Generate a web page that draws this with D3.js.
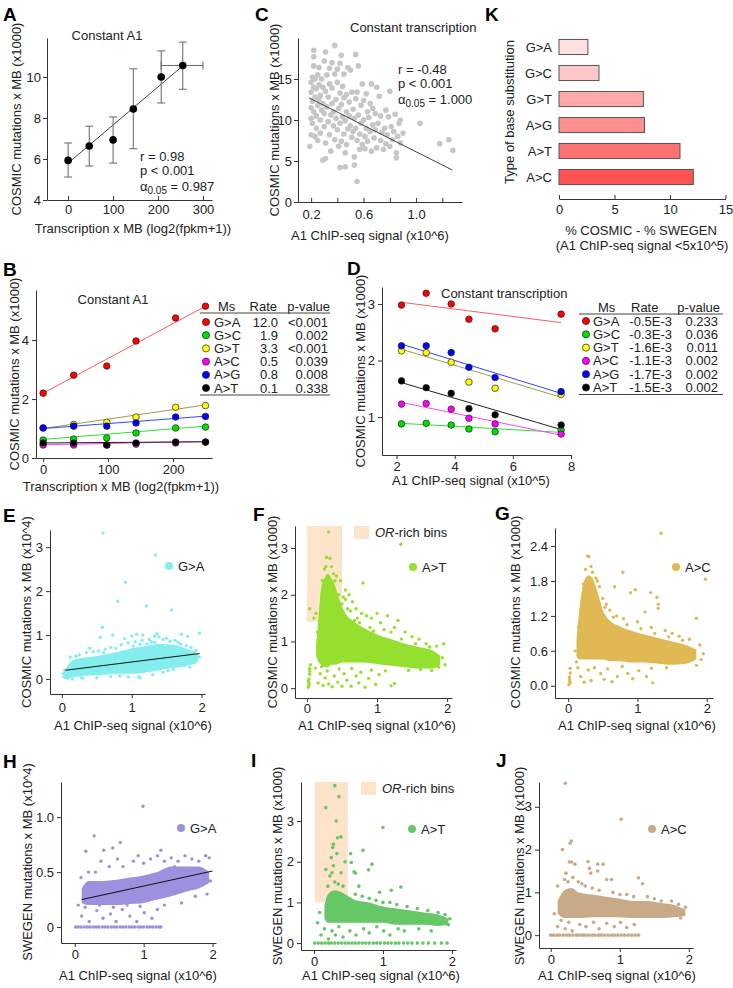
<!DOCTYPE html>
<html><head><meta charset="utf-8">
<script src="https://cdn.jsdelivr.net/npm/d3@7"></script>
<style>
body{margin:0;background:#fff;}
svg{display:block;font-family:"Liberation Sans",Arial,sans-serif;}
</style></head><body>
<svg id="fig" width="733" height="988"></svg>
<script>
// ---------------- DATA ----------------
// Panel A
const aTranscription = [0, 47, 100, 145, 207, 255];
const aMutations = [5.93, 6.63, 6.93, 8.44, 10.0, 10.56];
const aErrLow = [5.12, 5.66, 5.8, 6.5, 8.73, 9.4];
const aErrHigh = [6.78, 7.6, 8.05, 10.4, 11.27, 11.7];
const aXErrLow = [0, 47, 100, 145, 207, 207];
const aXErrHigh = [0, 47, 100, 145, 207, 300];
const aFitX = [0, 255];
const aFitY = [5.8, 10.54];
const aXTicks = [0, 100, 200, 300];
const aYTicks = [4, 6, 8, 10];

// Panel B / D shared
const subst = ["G>A", "G>C", "G>T", "A>C", "A>G", "A>T"];
const substFill = ["#ff0000", "#00e000", "#ffff00", "#ff00ff", "#0000ff", "#000000"];
const substLine = ["#ff5a5a", "#33e033", "#a0a040", "#ff44ff", "#3344ff", "#222222"];

// Panel B
const bTranscription = [0, 47, 98, 143, 204, 250];
const bGA = [2.2, 2.81, 3.12, 3.97, 4.75, 5.15];
const bGC = [0.61, 0.64, 0.68, 0.85, 1.02, 1.05];
const bGT = [1.02, 1.14, 1.21, 1.39, 1.72, 1.78];
const bAC = [0.44, 0.44, 0.44, 0.47, 0.51, 0.54];
const bAG = [1.02, 1.08, 1.08, 1.19, 1.39, 1.41];
const bAT = [0.51, 0.51, 0.44, 0.51, 0.54, 0.54];
const bFitX = [0, 250];
const bFitStart = [2.2, 0.63, 1.0, 0.45, 1.0, 0.51];
const bFitEnd = [5.15, 1.08, 1.8, 0.56, 1.42, 0.55];
const bRates = ["12.0", "1.9", "3.3", "0.5", "0.8", "0.1"];
const bPvalues = ["<0.001", "0.002", "<0.001", "0.039", "0.008", "0.338"];
const bXTicks = [0, 100, 200];
const bYTicks = [0, 2, 4];

// Panel C
const cPoints = [
[0.19,6.8],[0.2,8.2],[0.2,10.2],[0.2,11.5],[0.2,13.4],[0.2,14.6],[0.21,15.2],[0.21,12.3],[0.21,9.6],[0.22,17.7],
[0.22,16.6],[0.22,18.5],[0.22,14.0],[0.22,11.0],[0.23,8.0],[0.23,12.8],[0.23,15.0],[0.24,10.5],[0.24,13.8],[0.24,9.0],
[0.25,15.5],[0.25,11.8],[0.25,7.5],[0.26,16.4],[0.26,12.5],[0.26,14.3],[0.27,10.0],[0.27,8.4],[0.27,13.0],[0.28,15.0],
[0.28,11.2],[0.29,5.1],[0.31,5.3],[0.29,12.0],[0.29,14.0],[0.3,17.2],[0.3,9.2],[0.3,10.8],[0.31,18.3],[0.31,13.5],[0.31,7.2],
[0.32,11.6],[0.32,15.5],[0.33,9.8],[0.33,12.8],[0.34,8.2],[0.34,14.4],[0.34,16.3],[0.35,10.6],[0.35,6.2],[0.36,17.0],
[0.36,12.0],[0.36,13.9],[0.37,9.3],[0.37,11.0],[0.38,19.1],[0.38,15.6],[0.38,7.6],[0.42,4.2],[0.39,12.5],[0.39,10.2],
[0.4,14.6],[0.4,8.8],[0.4,16.2],[0.41,11.4],[0.41,6.8],[0.42,13.3],[0.42,9.6],[0.42,16.9],[0.43,17.9],[0.43,7.4],
[0.43,11.9],[0.44,10.4],[0.44,14.1],[0.45,8.3],[0.45,12.7],[0.45,15.6],[0.46,6.0],[0.46,9.9],[0.47,11.0],[0.47,13.1],
[0.47,7.0],[0.48,8.9],[0.48,16.4],[0.49,10.5],[0.49,12.2],[0.5,9.3],[0.5,16.1],[0.46,4.3],[0.55,2.5],[0.51,7.9],[0.51,13.4],
[0.52,11.3],[0.52,8.6],[0.53,10.2],[0.53,5.5],[0.53,4.5],[0.54,18.0],[0.54,12.6],[0.54,9.0],[0.55,7.5],[0.55,13.4],[0.56,16.6],
[0.56,10.6],[0.57,8.3],[0.57,6.4],[0.58,11.8],[0.58,9.6],[0.59,7.0],[0.59,14.4],[0.6,12.4],[0.6,10.0],[0.61,8.0],
[0.61,6.5],[0.62,13.2],[0.62,9.0],[0.63,11.0],[0.63,7.4],[0.64,10.3],[0.65,12.0],[0.65,8.6],[0.66,14.4],[0.66,6.2],
[0.67,9.4],[0.67,11.4],[0.68,7.8],[0.69,10.8],[0.69,8.8],[0.7,14.0],[0.7,6.6],[0.71,9.6],[0.72,12.9],[0.73,7.5],
[0.73,10.5],[0.74,8.5],[0.75,6.4],[0.76,9.0],[0.77,11.2],[0.77,7.1],[0.78,8.2],[0.79,10.4],[0.8,6.8],[0.8,13.5],
[0.81,9.2],[0.82,7.6],[0.83,8.6],[0.84,10.7],[0.85,6.0],[0.86,8.0],[0.87,9.6],[0.88,7.2],[0.88,10.0],[0.9,8.4],
[1.03,9.6],[1.18,7.1],[1.25,7.6],[1.28,6.3],[0.85,5.4]
];
const cFitX = [0.184, 1.276];
const cFitY = [12.7, 3.9];
const cXTicks = [0.2, 0.4, 0.6, 0.8, 1.0, 1.2];
const cXLabels = ["0.2", "", "0.6", "", "1.0", ""];
const cYTicks = [0, 5, 10, 15];

// Panel D
const dSignal = [2.17, 3.02, 3.88, 4.49, 5.39, 7.66];
const dGA = [2.98, 3.19, 3.0, 2.73, 2.56, 2.82];
const dGC = [0.88, 0.89, 0.86, 0.79, 0.74, 0.77];
const dGT = [2.17, 2.14, 1.97, 1.62, 1.51, 1.40];
const dAC = [1.23, 1.24, 1.14, 0.98, 0.88, 0.70];
const dAG = [2.26, 2.26, 2.14, 1.88, 1.70, 1.45];
const dAT = [1.64, 1.52, 1.42, 1.15, 1.04, 0.86];
const dFitX = [2.17, 7.66];
const dFitStart = [3.03, 0.89, 2.20, 1.26, 2.29, 1.61];
const dFitEnd = [2.67, 0.73, 1.35, 0.68, 1.42, 0.78];
const dRates = ["-0.5E-3", "-0.3E-3", "-1.6E-3", "-1.1E-3", "-1.7E-3", "-1.5E-3"];
const dPvalues = ["0.233", "0.036", "0.011", "0.002", "0.002", "0.002"];
const dXTicks = [2, 4, 6, 8];
const dYTicks = [1, 2, 3];

// Panel K
const kCategories = ["G>A", "G>C", "G>T", "A>G", "A>T", "A>C"];
const kValues = [2.6, 3.6, 7.6, 7.7, 10.9, 12.1];
const kColors = ["#ffe1e1", "#ffc8c8", "#ffa9a9", "#ff8f8f", "#ff7171", "#ff5252"];
const kXTicks = [0, 5, 10, 15];

// Panel E (COSMIC G>A)
const eCloudX = [0.03, 0.1, 0.2, 0.4, 0.6, 0.8, 1.0, 1.2, 1.4, 1.6, 1.8, 1.95];
const eCloudLow = [0.0, 0.02, 0.05, 0.08, 0.1, 0.12, 0.12, 0.15, 0.2, 0.25, 0.3, 0.38];
const eCloudHigh = [0.15, 0.35, 0.45, 0.5, 0.55, 0.62, 0.7, 0.75, 0.8, 0.78, 0.68, 0.58];
const ePoints = [[0.59,3.32],[1.34,2.82],[0.91,2.2],[0.8,1.77],[1.21,1.66],[1.57,1.57],[0.58,1.18],[0.73,1.0],[1.0,0.98],[1.07,1.02],
[1.16,1.0],[1.33,0.97],[1.36,1.03],[1.39,0.96],[1.71,1.02],[1.8,0.97],[1.97,1.04],[0.55,0.95],[0.9,0.92],[1.25,0.9],[1.5,0.93],[1.62,0.88],
[0.03,0.05],[0.02,0.12],[0.04,0.2],[0.12,0.5],[0.25,0.55],[0.35,0.6],[0.45,0.62],[0.62,0.68],[0.7,0.72],[0.85,0.78],[0.95,0.82],
[1.05,0.85],[1.15,0.88],[1.28,0.85],[1.45,0.9],[1.55,0.86],[1.7,0.8],[1.85,0.72],[1.92,0.65],[1.97,0.5],[1.9,0.38],[1.75,0.3],
[1.6,0.22],[1.45,0.15],[1.3,0.1],[1.1,0.05],[0.95,0.05],[0.7,0.06],[0.5,0.03],[0.3,0.02],[0.15,0.0],[0.08,0.02],[1.12,0.03],
[1.58,0.4],[0.4,0.7],[1.02,0.75],[1.22,0.8],[0.18,0.4],[0.6,0.6],[0.2,0.52],[0.52,0.64],[0.77,0.7],[1.12,0.79],[1.33,0.83],
[1.66,0.84],[1.78,0.76],[1.88,0.61],[0.28,0.03],[0.83,0.07],[1.52,0.19],[1.83,0.27]];
const eFitX = [0.05, 1.97];
const eFitY = [0.2, 0.58];
const eXTicks = [0, 1, 2];
const eYTicks = [0, 1, 2, 3];

// Panel F (COSMIC A>T)
const fCloudX = [0.13, 0.17, 0.2, 0.25, 0.3, 0.35, 0.4, 0.45, 0.5, 0.55, 0.65, 0.8, 1.0, 1.2, 1.4, 1.6, 1.8, 1.9];
const fCloudLow = [0.7, 0.55, 0.5, 0.45, 0.45, 0.5, 0.5, 0.52, 0.55, 0.55, 0.55, 0.55, 0.52, 0.48, 0.45, 0.42, 0.42, 0.5];
const fCloudHigh = [0.9, 1.6, 2.1, 2.35, 2.45, 2.35, 2.2, 1.95, 1.75, 1.6, 1.45, 1.3, 1.15, 1.05, 0.95, 0.88, 0.8, 0.7];
const fPoints = [[0.02,0.02],[0.03,0.1],[0.03,0.2],[0.04,0.3],[0.04,0.42],[0.05,0.5],[0.03,0.06],[0.02,0.15],[0.04,0.36],
[0.23,0.06],[0.26,0.22],[0.29,0.37],[0.31,0.09],[0.36,0.03],[0.39,0.26],[0.44,0.13],[0.46,0.41],[0.5,0.04],[0.53,0.31],[0.57,0.17],
[0.63,0.04],[0.64,0.42],[0.7,0.26],[0.74,0.11],[0.77,0.34],[0.83,0.02],[0.88,0.21],[0.92,0.39],[0.98,0.08],[1.03,0.29],
[1.12,0.37],[1.2,0.05],[1.25,0.1],[0.19,0.31],[0.21,0.46],[0.16,0.11],[0.12,0.43],
[0.31,3.34],[1.34,3.08],[0.8,2.25],[0.28,2.8],[0.33,2.78],[0.35,2.6],[0.25,2.55],[0.38,2.45],[0.42,2.4],[0.48,2.3],[0.55,2.1],
[0.6,2.0],[0.65,1.85],[0.7,1.7],[0.72,1.5],[0.78,1.6],[0.85,1.55],[0.92,1.5],[1.0,1.6],[1.05,1.4],[1.15,1.55],[1.25,1.3],
[1.3,1.45],[1.4,1.2],[1.5,1.1],[1.6,1.05],[1.7,0.95],[1.85,0.9],[1.95,0.95],[1.93,0.65],[1.97,0.5],[1.88,0.45],[0.04,1.7],
[0.1,1.5],[0.13,1.6],[0.15,1.2],[0.18,1.45],[0.22,2.05],[0.45,2.0],[0.5,1.8],[0.55,1.9],[0.62,1.65],[0.68,1.45],[0.9,1.3],
[1.1,1.25],[1.2,1.2],[1.62,0.4],[1.78,0.38],[1.45,0.38],[0.22,2.3],[0.27,2.6],[0.4,2.3],[0.52,1.95],[0.58,1.7],[0.75,1.4],
[0.95,1.22],[1.35,1.05],[1.55,0.95],[1.75,0.88]];
const fRectX = [0.0, 0.5];
const fRectY = [1.42, 3.47];
const fXTicks = [0, 1, 2];
const fYTicks = [0, 1, 2, 3];

// Panel G (COSMIC A>C)
const gCloudX = [0.12, 0.17, 0.2, 0.25, 0.3, 0.35, 0.4, 0.45, 0.5, 0.6, 0.75, 0.9, 1.1, 1.3, 1.5, 1.7, 1.85];
const gCloudLow = [0.5, 0.45, 0.45, 0.45, 0.45, 0.45, 0.45, 0.45, 0.45, 0.42, 0.42, 0.4, 0.4, 0.38, 0.36, 0.38, 0.45];
const gCloudHigh = [0.8, 1.4, 1.65, 1.85, 1.9, 1.85, 1.7, 1.5, 1.3, 1.12, 1.02, 0.95, 0.88, 0.82, 0.76, 0.7, 0.62];
const gPoints = [[0.01,0.02],[0.02,0.08],[0.02,0.15],[0.03,0.22],[0.03,0.3],[0.02,0.12],[0.03,0.05],
[0.18,0.16],[0.23,0.06],[0.29,0.27],[0.33,0.09],[0.38,0.31],[0.47,0.21],[0.52,0.11],[0.57,0.29],[0.63,0.07],
[0.71,0.16],[0.78,0.33],[0.86,0.21],[0.93,0.12],[1.02,0.26],[1.13,0.16],[1.22,0.05],[0.14,0.31],[0.12,0.41],
[1.34,2.62],[0.79,1.95],[1.98,1.83],[0.28,2.23],[0.3,2.22],[0.25,2.0],[0.35,1.95],[0.4,1.85],[0.45,1.7],[0.5,1.5],[0.55,1.4],
[0.67,1.7],[0.9,1.6],[0.97,1.65],[1.19,1.6],[1.28,1.52],[1.3,1.4],[1.3,1.33],[1.11,1.27],[1.85,1.16],[0.6,1.3],[0.7,1.2],
[0.8,1.15],[1.0,1.1],[1.2,1.0],[1.4,0.95],[1.5,0.9],[1.6,0.85],[1.75,0.8],[1.9,0.7],[1.95,0.55],[1.92,0.45],[1.85,0.35],
[1.2,0.3],[1.42,0.31],[0.15,0.7],[0.1,0.6],[0.2,1.2],[0.15,1.0],[0.22,1.75],[0.33,2.05],[0.42,1.8],[0.53,1.35],
[0.65,1.18],[0.85,1.05],[1.05,0.98],[1.25,0.9],[1.45,0.84],[1.65,0.78]];
const gXTicks = [0, 1, 2];
const gYTicks = [0, 0.6, 1.2, 1.8, 2.4];

// Panel H (SWEGEN G>A)
const hCloudX = [0.1, 0.2, 0.4, 0.6, 0.8, 1.0, 1.2, 1.4, 1.6, 1.8, 1.95];
const hCloudLow = [0.22, 0.2, 0.2, 0.2, 0.21, 0.22, 0.25, 0.28, 0.32, 0.35, 0.4];
const hCloudHigh = [0.35, 0.42, 0.42, 0.43, 0.45, 0.47, 0.5, 0.55, 0.55, 0.55, 0.5];
const hZeroRowX = [0.01,0.05,0.09,0.14,0.18,0.22,0.27,0.31,0.35,0.4,0.44,0.48,0.53,0.57,0.61,0.66,0.7,0.74,0.79,0.83,0.87,0.92,0.96,1.0,1.05,1.09,1.13,1.18,1.22,1.25];
const hPoints = [[0.1,0.1],[0.21,0.05],[0.32,0.15],[0.41,0.08],[0.52,0.12],[0.6,0.05],[0.69,0.16],[0.8,0.1],[0.9,0.05],[1.01,0.13],
[1.12,0.08],[1.2,0.16],[0.15,0.18],[0.36,0.2],[0.56,0.18],[0.76,0.2],[0.95,0.19],[1.3,0.2],[0.05,0.2],
[0.99,1.1],[0.28,0.83],[0.16,0.69],[0.42,0.7],[0.66,0.77],[0.55,0.72],[0.09,0.45],[0.3,0.5],[0.5,0.55],[0.7,0.55],[0.85,0.6],
[1.0,0.58],[1.1,0.62],[1.2,0.65],[1.3,0.6],[1.4,0.63],[1.5,0.6],[1.6,0.65],[1.7,0.62],[1.8,0.6],[1.9,0.65],[1.95,0.63],
[1.97,0.42],[1.92,0.3],[1.75,0.28],[1.55,0.22],[0.2,0.5],[0.38,0.6],[0.62,0.62],[0.92,0.65],[1.25,0.7],[1.45,0.55],[1.65,0.5]];
const hFitX = [0.1, 2.0];
const hFitY = [0.25, 0.51];
const hXTicks = [0, 1, 2];
const hYTicks = [0, 0.5, 1.0];

// Panel I (SWEGEN A>T)
const iCloudX = [0.15, 0.2, 0.3, 0.4, 0.5, 0.6, 0.8, 1.0, 1.2, 1.4, 1.6, 1.8, 1.95];
const iCloudLow = [0.6, 0.5, 0.5, 0.5, 0.5, 0.5, 0.5, 0.5, 0.45, 0.45, 0.45, 0.42, 0.45];
const iCloudHigh = [0.9, 1.2, 1.3, 1.25, 1.15, 1.05, 1.0, 0.9, 0.85, 0.8, 0.75, 0.7, 0.6];
const iZeroRowX = [0.01,0.06,0.11,0.16,0.21,0.25,0.3,0.35,0.4,0.45,0.5,0.55,0.6,0.65,0.7,0.75,0.8,0.86,0.91,0.96,1.02,1.07,1.12,1.18,1.23,1.3,1.36,1.42,1.5,1.58,1.66,1.75,1.85,1.93];
const iPoints = [[0.3,3.87],[0.36,3.6],[0.17,3.33],[0.32,3.0],[1.0,2.84],[0.39,2.61],[0.34,2.59],[0.28,2.43],[0.27,2.35],[0.53,2.2],
[0.71,2.28],[0.45,2.0],[0.54,1.98],[0.17,1.81],[0.58,1.75],[0.6,1.72],[0.84,1.94],[0.79,1.8],[0.25,2.1],[0.26,1.73],[0.23,1.65],
[0.39,1.73],[1.26,1.38],[0.3,1.5],[0.35,1.45],[0.2,1.4],[0.42,1.4],[0.28,1.9],[0.33,2.2],
[0.1,0.2],[0.15,0.35],[0.21,0.1],[0.26,0.3],[0.31,0.2],[0.36,0.4],[0.42,0.15],[0.52,0.3],[0.61,0.2],[0.72,0.35],[0.8,0.25],[0.91,0.4],
[1.01,0.3],[1.1,0.2],[1.22,0.35],[1.31,0.3],[1.52,0.35],[1.7,0.3],[0.05,0.5],[0.08,0.75],
[0.6,1.2],[0.7,1.15],[0.8,1.1],[0.9,1.05],[1.0,1.0],[1.1,1.0],[1.2,0.95],[1.35,0.9],[1.5,0.85],[1.65,0.8],[1.8,0.75],[1.9,0.7],
[1.97,0.6],[1.95,0.45],[1.12,1.3],[0.95,1.25],[0.65,1.4]];
const iRectX = [0.01, 0.49];
const iRectY = [1.0, 3.96];
const iXTicks = [0, 1, 2];
const iYTicks = [0, 1, 2, 3];

// Panel J (SWEGEN A>C)
const jCloudX = [0.1, 0.2, 0.3, 0.4, 0.6, 0.8, 1.0, 1.2, 1.4, 1.6, 1.8, 1.95];
const jCloudLow = [0.5, 0.4, 0.4, 0.4, 0.42, 0.42, 0.42, 0.4, 0.4, 0.4, 0.42, 0.45];
const jCloudHigh = [0.8, 1.05, 1.1, 1.0, 0.95, 0.9, 0.85, 0.8, 0.8, 0.75, 0.7, 0.6];
const jZeroRowX = [0.0,0.04,0.09,0.13,0.18,0.23,0.27,0.32,0.37,0.41,0.46,0.5,0.55,0.6,0.64,0.69,0.73,0.78,0.83,0.88,0.92,0.97,1.02,1.07,1.12,1.17,1.22,1.27];
const jPoints = [[0.21,3.55],[1.02,2.71],[0.3,2.2],[0.28,2.15],[0.17,2.0],[0.27,1.71],[0.3,1.71],[0.35,1.66],[0.54,1.72],[0.68,1.66],
[0.76,1.66],[0.22,1.45],[0.56,1.56],[0.58,1.45],[0.68,1.5],[0.81,1.3],[0.88,1.3],[1.27,1.34],[1.33,1.2],[0.1,1.15],[0.2,1.3],
[0.25,1.25],[0.32,1.35],[0.4,1.25],[0.45,1.2],[0.5,1.15],[0.6,1.1],[0.7,1.05],[0.9,1.0],[1.0,0.95],[1.1,0.95],[1.2,0.9],[1.4,0.9],
[1.5,0.85],[1.6,0.8],[1.75,0.8],[1.85,0.72],[1.95,0.65],[1.92,0.5],[1.88,0.4],
[0.1,0.2],[0.15,0.35],[0.21,0.15],[0.26,0.3],[0.31,0.1],[0.42,0.25],[0.51,0.2],[0.62,0.3],[0.7,0.15],[0.81,0.28],[0.92,0.2],[1.01,0.3],
[1.1,0.18],[1.21,0.25],[0.05,0.5]];
const jXTicks = [0, 1, 2];
const jYTicks = [0, 1, 2, 3];

// ---------------- DRAWING ----------------
const FONT = '"Liberation Sans", Arial, sans-serif';
const svg = d3.select("#fig");
const AX = "#333";

function axes(x, y, o) {
  const bottom = y.range()[0], left = x.range()[0];
  const gx = svg.append("g").attr("transform", `translate(0,${bottom})`)
    .call(d3.axisBottom(x).tickValues(o.xt).tickFormat(o.xf || (d => String(d)))
      .tickSizeOuter(0).tickSizeInner(o.xIn ? -4 : 4).tickPadding(o.xp != null ? o.xp : 3));
  const gy = svg.append("g").attr("transform", `translate(${left},0)`)
    .call(d3.axisLeft(y).tickValues(o.yt).tickFormat(o.yf || (d => String(d)))
      .tickSizeOuter(0).tickSizeInner(4).tickPadding(o.yp != null ? o.yp : 3));
  [gx, gy].forEach(g => {
    g.attr("font-family", FONT).attr("font-size", 13);
    g.selectAll("path,line").attr("stroke", AX);
    g.selectAll("text").attr("fill", "#222");
  });
}
function txt(x, y, s, o = {}) {
  return svg.append("text").attr("x", x).attr("y", y).attr("dy", "0.35em")
    .attr("font-size", o.size || 13).attr("font-weight", o.bold ? "bold" : null)
    .attr("text-anchor", o.anchor || "start").attr("fill", o.fill || "#222").text(s);
}
function ylab(x, yc, s) {
  svg.append("text").attr("transform", `translate(${x},${yc}) rotate(-90)`)
    .attr("text-anchor", "middle").attr("dy", "0.35em").attr("font-size", 13).attr("fill", "#222").text(s);
}
function letter(x, y, s) {
  svg.append("text").attr("x", x).attr("y", y).attr("font-size", 19).attr("font-weight", "bold").attr("fill", "#000").text(s);
}
function alphaStat(x, y, val) {
  const t = svg.append("text").attr("x", x).attr("y", y).attr("font-size", 13).attr("fill", "#222");
  t.append("tspan").text("α");
  t.append("tspan").attr("font-size", 10).attr("dy", 3).text("0.05");
  t.append("tspan").attr("dy", -3).text(" = " + val);
}
function cloud(x, y, xs, lo, hi, color) {
  const data = xs.map((v, i) => [v, lo[i], hi[i]]);
  svg.append("path").datum(data)
    .attr("d", d3.area().x(d => x(d[0])).y0(d => y(d[1])).y1(d => y(d[2])).curve(d3.curveMonotoneX))
    .attr("fill", color);
}
function dots(x, y, pts, color, r) {
  svg.append("g").selectAll("circle").data(pts).join("circle")
    .attr("cx", d => x(d[0])).attr("cy", d => y(d[1])).attr("r", r).attr("fill", color);
}

// ===== Panel A =====
{
  const x = d3.scaleLinear([-47, 320], [47, 212]);
  const y = d3.scaleLinear([4, 11.9], [200, 38]);
  letter(3, 21, "A");
  axes(x, y, { xt: aXTicks, yt: aYTicks, xIn: true, xp: 5, yp: 2 });
  ylab(16, 119, "COSMIC mutations x MB (x1000)");
  txt(133, 228, "Transcription x MB (log2(fpkm+1))", { anchor: "middle" });
  txt(107, 35, "Constant A1", { anchor: "middle" });
  svg.append("line").attr("x1", x(aFitX[0])).attr("x2", x(aFitX[1])).attr("y1", y(aFitY[0])).attr("y2", y(aFitY[1]))
    .attr("stroke", "#444").attr("stroke-width", 1);
  const eb = svg.append("g").attr("stroke", "#666").attr("stroke-width", 1);
  aTranscription.forEach((t, i) => {
    eb.append("line").attr("x1", x(t)).attr("x2", x(t)).attr("y1", y(aErrLow[i])).attr("y2", y(aErrHigh[i]));
    eb.append("line").attr("x1", x(t) - 4).attr("x2", x(t) + 4).attr("y1", y(aErrLow[i])).attr("y2", y(aErrLow[i]));
    eb.append("line").attr("x1", x(t) - 4).attr("x2", x(t) + 4).attr("y1", y(aErrHigh[i])).attr("y2", y(aErrHigh[i]));
    if (aXErrHigh[i] > aXErrLow[i]) {
      eb.append("line").attr("x1", x(aXErrLow[i])).attr("x2", x(aXErrHigh[i])).attr("y1", y(aMutations[i])).attr("y2", y(aMutations[i]));
      eb.append("line").attr("x1", x(aXErrLow[i])).attr("x2", x(aXErrLow[i])).attr("y1", y(aMutations[i]) - 4).attr("y2", y(aMutations[i]) + 4);
      eb.append("line").attr("x1", x(aXErrHigh[i])).attr("x2", x(aXErrHigh[i])).attr("y1", y(aMutations[i]) - 4).attr("y2", y(aMutations[i]) + 4);
    }
  });
  svg.append("g").selectAll("circle").data(aTranscription).join("circle")
    .attr("cx", d => x(d)).attr("cy", (d, i) => y(aMutations[i])).attr("r", 3.8).attr("fill", "#000");
  txt(140, 156, "r = 0.98");
  txt(140, 170, "p < 0.001");
  alphaStat(140, 191, "0.987");
}

// ===== Panel C =====
{
  const x = d3.scaleLinear([0.1, 1.35], [298, 462]);
  const y = d3.scaleLinear([0, 20], [202, 38]);
  letter(255, 21, "C");
  axes(x, y, { xt: cXTicks, xf: (d, i) => cXLabels[i], yt: cYTicks, xIn: true, xp: 8, yp: 2 });
  ylab(274, 120, "COSMIC mutations x MB (x1000)");
  txt(370, 235, "A1 ChIP-seq signal (x10^6)", { anchor: "middle" });
  txt(350, 27, "Constant transcription");
  dots(x, y, cPoints, "#c6c6c6", 2.8);
  svg.append("line").attr("x1", x(cFitX[0])).attr("x2", x(cFitX[1])).attr("y1", y(cFitY[0])).attr("y2", y(cFitY[1]))
    .attr("stroke", "#444").attr("stroke-width", 1);
  txt(398, 69, "r = -0.48");
  txt(398, 83, "p < 0.001");
  alphaStat(398, 104, "1.000");
}

// ===== Panel K =====
{
  const x = d3.scaleLinear([0, 15], [559, 725.5]);
  const y = d3.scaleBand(kCategories, [34, 190]).paddingInner(0.42).paddingOuter(0.21);
  letter(485, 21, "K");
  svg.append("g").selectAll("rect").data(kCategories).join("rect")
    .attr("x", x(0)).attr("y", d => y(d)).attr("height", y.bandwidth())
    .attr("width", (d, i) => x(kValues[i]) - x(0))
    .attr("fill", (d, i) => kColors[i]).attr("stroke", "#555").attr("stroke-width", 1);
  kCategories.forEach(c => txt(552, y(c) + y.bandwidth() / 2, c, { anchor: "end" }));
  const gx = svg.append("g").attr("transform", "translate(0,199)")
    .call(d3.axisBottom(x).tickValues(kXTicks).tickFormat(d => String(d)).tickSizeOuter(0).tickSizeInner(-4).tickPadding(6));
  gx.attr("font-family", FONT).attr("font-size", 13);
  gx.selectAll("path,line").attr("stroke", AX);
  gx.selectAll("text").attr("fill", "#222");
  ylab(509, 112, "Type of base substitution");
  txt(641, 230, "% COSMIC - % SWEGEN", { anchor: "middle" });
  txt(642, 245, "(A1 ChIP-seq signal <5x10^5)", { anchor: "middle" });
}

// table helper for B and D
function table(o) {
  txt(o.msX, o.headY, "Ms");
  txt(o.rateHX, o.headY, "Rate", { anchor: o.rateHAnchor });
  txt(o.pX + 2, o.headY, "p-value", { anchor: "end" });
  svg.append("line").attr("x1", o.x0).attr("x2", o.x1).attr("y1", o.headY + 7).attr("y2", o.headY + 7).attr("stroke", "#444");
  subst.forEach((s, i) => {
    const yy = o.row0 + i * o.step;
    svg.append("circle").attr("cx", o.dotX).attr("cy", yy).attr("r", 3.6).attr("fill", substFill[i]).attr("stroke", "#222").attr("stroke-width", 0.7);
    txt(o.nameX, yy, s);
    txt(o.rateX, yy, o.rates[i], { anchor: "end" });
    txt(o.pX, yy, o.pv[i], { anchor: "end" });
  });
  const yb = o.row0 + 5 * o.step + 7;
  svg.append("line").attr("x1", o.x0).attr("x2", o.x1).attr("y1", yb).attr("y2", yb).attr("stroke", "#444");
}
function multiSeries(x, y, xs, series, fitX, fitS, fitE) {
  series.forEach((vals, i) => {
    svg.append("line").attr("x1", x(fitX[0])).attr("x2", x(fitX[1])).attr("y1", y(fitS[i])).attr("y2", y(fitE[i]))
      .attr("stroke", substLine[i]).attr("stroke-width", 1);
  });
  series.forEach((vals, i) => {
    svg.append("g").selectAll("circle").data(vals).join("circle")
      .attr("cx", (d, j) => x(xs[j])).attr("cy", d => y(d)).attr("r", 3.3)
      .attr("fill", substFill[i]).attr("stroke", "#222").attr("stroke-width", 0.7);
  });
}

// ===== Panel B =====
{
  const x = d3.scaleLinear([-11, 260], [36, 212]);
  const y = d3.scaleLinear([0, 5.7], [458, 290]);
  letter(3, 276, "B");
  axes(x, y, { xt: bXTicks, yt: bYTicks, xp: 3, yp: 3 });
  ylab(14, 374, "COSMIC mutations x MB (x1000)");
  txt(121, 486, "Transcription x MB (log2(fpkm+1))", { anchor: "middle" });
  txt(113, 299, "Constant A1", { anchor: "middle" });
  multiSeries(x, y, bTranscription, [bGA, bGC, bGT, bAC, bAG, bAT], bFitX, bFitStart, bFitEnd);
  table({ msX: 218, rateHX: 277, rateHAnchor: "end", rateX: 278, pX: 328, headY: 306, x0: 200, x1: 330, row0: 322, step: 13.2, dotX: 206, nameX: 214, rates: bRates, pv: bPvalues });
}

// ===== Panel D =====
{
  const x = d3.scaleLinear([1.5, 8], [382, 571]);
  const y = d3.scaleLinear([0.33, 3.3], [455, 287]);
  letter(347, 275, "D");
  axes(x, y, { xt: dXTicks, yt: dYTicks, xp: 3, yp: 3 });
  ylab(360, 371, "COSMIC mutations x MB (x1000)");
  txt(471, 480, "A1 ChIP-seq signal (x10^5)", { anchor: "middle" });
  txt(441, 293, "Constant transcription");
  multiSeries(x, y, dSignal, [dGA, dGC, dGT, dAC, dAG, dAT], dFitX, dFitStart, dFitEnd);
  table({ msX: 598, rateHX: 631, rateHAnchor: "start", rateX: 672, pX: 718, headY: 307, x0: 579, x1: 723, row0: 321, step: 13.3, dotX: 586, nameX: 593, rates: dRates, pv: dPvalues });
}

// ===== Scatter panels E-J =====
function legendDot(cx, cy, color, label) {
  svg.append("circle").attr("cx", cx).attr("cy", cy).attr("r", 4).attr("fill", color);
  txt(cx + 9, cy, label);
}
function orLegend(x0, y0) {
  svg.append("rect").attr("x", x0).attr("y", y0).attr("width", 15).attr("height", 13).attr("fill", "#fce3ca");
  const t = svg.append("text").attr("x", x0 + 21).attr("y", y0 + 6.5).attr("dy", "0.35em").attr("font-size", 13).attr("fill", "#222");
  t.append("tspan").attr("font-style", "italic").text("OR");
  t.append("tspan").text("-rich bins");
}
const fmt1 = d => d === 0 ? "0" : d.toFixed(1);

// E
{
  const x = d3.scaleLinear([-0.17, 2.05], [50, 205]);
  const y = d3.scaleLinear([-0.34, 3.39], [694, 530]);
  letter(3, 522, "E");
  axes(x, y, { xt: eXTicks, yt: eYTicks, xp: 5, yp: 3 });
  ylab(26, 612, "COSMIC mutations x MB (x10^4)");
  txt(133, 725, "A1 ChIP-seq signal (x10^6)", { anchor: "middle" });
  const c = "#84eeee";
  cloud(x, y, eCloudX, eCloudLow, eCloudHigh, c);
  dots(x, y, ePoints, c, 1.7);
  svg.append("line").attr("x1", x(eFitX[0])).attr("x2", x(eFitX[1])).attr("y1", y(eFitY[0])).attr("y2", y(eFitY[1])).attr("stroke", "#111");
  legendDot(169, 566, c, "G>A");
}
// F
{
  const x = d3.scaleLinear([-0.17, 2.07], [295, 452]);
  const y = d3.scaleLinear([-0.21, 3.47], [698, 526]);
  letter(253, 521, "F");
  svg.append("rect").attr("x", x(fRectX[0])).attr("width", x(fRectX[1]) - x(fRectX[0]))
    .attr("y", y(fRectY[1])).attr("height", y(fRectY[0]) - y(fRectY[1])).attr("fill", "#fce3ca");
  axes(x, y, { xt: fXTicks, yt: fYTicks, xp: 2, yp: 3 });
  ylab(272, 612, "COSMIC mutations x MB (x1000)");
  txt(377, 725, "A1 ChIP-seq signal (x10^6)", { anchor: "middle" });
  const c = "#95e02e";
  cloud(x, y, fCloudX, fCloudLow, fCloudHigh, c);
  dots(x, y, fPoints, c, 1.7);
  orLegend(354, 526);
  legendDot(413, 567, c, "A>T");
}
// G
{
  const x = d3.scaleLinear([-0.19, 2.09], [555, 713]);
  const y = d3.scaleLinear([-0.21, 2.71], [698, 528]);
  letter(495, 520, "G");
  axes(x, y, { xt: gXTicks, yt: gYTicks, yf: d => d.toFixed(1), xp: 2, yp: 3 });
  ylab(515, 612, "COSMIC mutations x MB (x1000)");
  txt(637, 725, "A1 ChIP-seq signal (x10^6)", { anchor: "middle" });
  const c = "#e0b955";
  cloud(x, y, gCloudX, gCloudLow, gCloudHigh, c);
  dots(x, y, gPoints, c, 1.7);
  legendDot(676, 567, c, "A>C");
}
// H
{
  const x = d3.scaleLinear([-0.2, 2.05], [61, 216]);
  const y = d3.scaleLinear([-0.145, 1.32], [943, 782]);
  letter(3, 768, "H");
  axes(x, y, { xt: hXTicks, yt: hYTicks, yf: fmt1, xp: 3, yp: 3 });
  ylab(27, 862, "SWEGEN mutations x MB (x10^4)");
  txt(138, 975, "A1 ChIP-seq signal (x10^6)", { anchor: "middle" });
  const c = "#9b91de";
  cloud(x, y, hCloudX, hCloudLow, hCloudHigh, c);
  dots(x, y, hZeroRowX.map(v => [v, 0]), c, 1.8);
  dots(x, y, hPoints, c, 1.7);
  svg.append("line").attr("x1", x(hFitX[0])).attr("x2", x(hFitX[1])).attr("y1", y(hFitY[0])).attr("y2", y(hFitY[1])).attr("stroke", "#111");
  legendDot(181, 828, c, "G>A");
}
// I
{
  const x = d3.scaleLinear([-0.19, 2.06], [301, 456]);
  const y = d3.scaleLinear([-0.17, 3.96], [950, 782]);
  letter(251, 767, "I");
  svg.append("rect").attr("x", x(iRectX[0])).attr("width", x(iRectX[1]) - x(iRectX[0]))
    .attr("y", y(iRectY[1])).attr("height", y(iRectY[0]) - y(iRectY[1])).attr("fill", "#fce3ca");
  axes(x, y, { xt: iXTicks, yt: iYTicks, xp: 3, yp: 3 });
  ylab(277, 866, "SWEGEN mutations x MB (x1000)");
  txt(381, 975, "A1 ChIP-seq signal (x10^6)", { anchor: "middle" });
  const c = "#66c766";
  cloud(x, y, iCloudX, iCloudLow, iCloudHigh, c);
  dots(x, y, iZeroRowX.map(v => [v, 0]), c, 1.8);
  dots(x, y, iPoints, c, 1.8);
  orLegend(361, 782);
  legendDot(412, 829, c, "A>T");
}
// J
{
  const x = d3.scaleLinear([-0.17, 2.06], [539, 693]);
  const y = d3.scaleLinear([-0.3, 3.58], [948, 782]);
  letter(496, 767, "J");
  axes(x, y, { xt: jXTicks, yt: jYTicks, xp: 3, yp: 3 });
  ylab(519, 866, "SWEGEN mutations x MB (x1000)");
  txt(617, 975, "A1 ChIP-seq signal (x10^6)", { anchor: "middle" });
  const c = "#c9aa88";
  cloud(x, y, jCloudX, jCloudLow, jCloudHigh, c);
  dots(x, y, jZeroRowX.map(v => [v, 0]), c, 1.8);
  dots(x, y, jPoints, c, 1.8);
  legendDot(652, 829, c, "A>C");
}
</script>
</body></html>
